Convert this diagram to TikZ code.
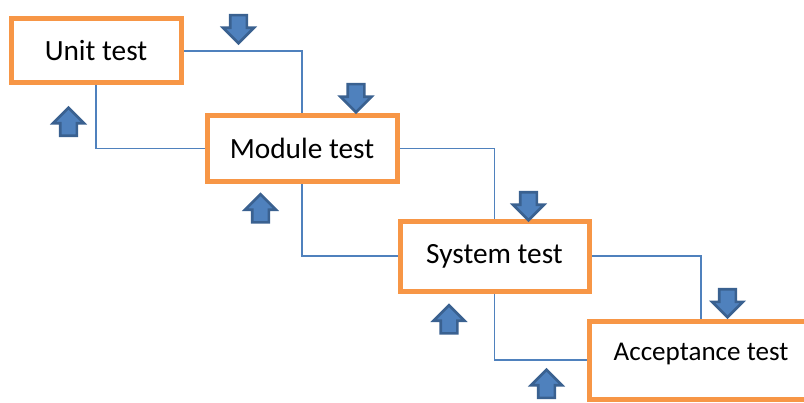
\documentclass[tikz,border=0pt]{standalone}
\usepackage{fontspec}
\setmainfont{Carlito}
\usetikzlibrary{shapes.arrows}
\definecolor{boxorange}{HTML}{F79646}
\definecolor{lineblue}{HTML}{4F81BD}
\definecolor{arrowdark}{HTML}{3A6190}
\pgfdeclarelayer{edgelayer}
\pgfdeclarelayer{nodelayer}
\pgfsetlayers{edgelayer,nodelayer,main}
\tikzstyle{edge}=[draw=lineblue, line width=1pt]
\tikzstyle{stage}=[rectangle, fill=white, draw=boxorange, line width=3.75pt, inner sep=0pt, font=\fontsize{22}{26}\selectfont]
\tikzstyle{flow}=[single arrow, fill=lineblue, draw=arrowdark, line width=2pt, inner xsep=0pt, inner ysep=5.25pt, minimum height=21pt, minimum width=21pt, single arrow head extend=5.25pt, single arrow head indent=0pt]

\begin{document}
\begin{tikzpicture}[x=0.75pt, y=-0.75pt]
				\useasboundingbox (0, 0) rectangle (804, 403);
				\begin{pgfonlayer}{nodelayer}
					\node [style=stage, minimum width=127.5pt, minimum height=48pt] (0) at (96, 51) {Unit test};
					\node [style=stage, minimum width=142.5pt, minimum height=48.75pt] (1) at (302, 148.5) {Module test};
					\node [style=stage, minimum width=141.75pt, minimum height=52.5pt] (2) at (494.5, 256) {System test};
					\node [style=stage, minimum width=168pt, minimum height=58.5pt, text height=12pt, text depth=12pt, font=\fontsize{20.3}{24}\selectfont] (3) at (701, 360) {Acceptance test};
					\node [style=flow, rotate=-90] (4) at (238.5, 25) {};
					\node [style=flow, rotate=-90] (5) at (356, 94) {};
					\node [style=flow, rotate=-90] (6) at (528.5, 202) {};
					\node [style=flow, rotate=-90] (7) at (727.5, 299) {};
					\node [style=flow, rotate=90] (8) at (68.5, 126) {};
					\node [style=flow, rotate=90] (9) at (260.5, 212.5) {};
					\node [style=flow, rotate=90] (10) at (449, 323.5) {};
					\node [style=flow, rotate=90] (11) at (546.5, 388) {};
				\end{pgfonlayer}
				\begin{pgfonlayer}{edgelayer}
					\draw [style=edge] (0.east) -| (1.north);
					\draw [style=edge] (0.south) |- (1.west);
					\draw [style=edge] (1.east) -| (2.north);
					\draw [style=edge] (1.south) |- (2.west);
					\draw [style=edge] (2.east) -| (3.north);
					\draw [style=edge] (2.south) |- (3.west);
				\end{pgfonlayer}
			\end{tikzpicture}
\end{document}
